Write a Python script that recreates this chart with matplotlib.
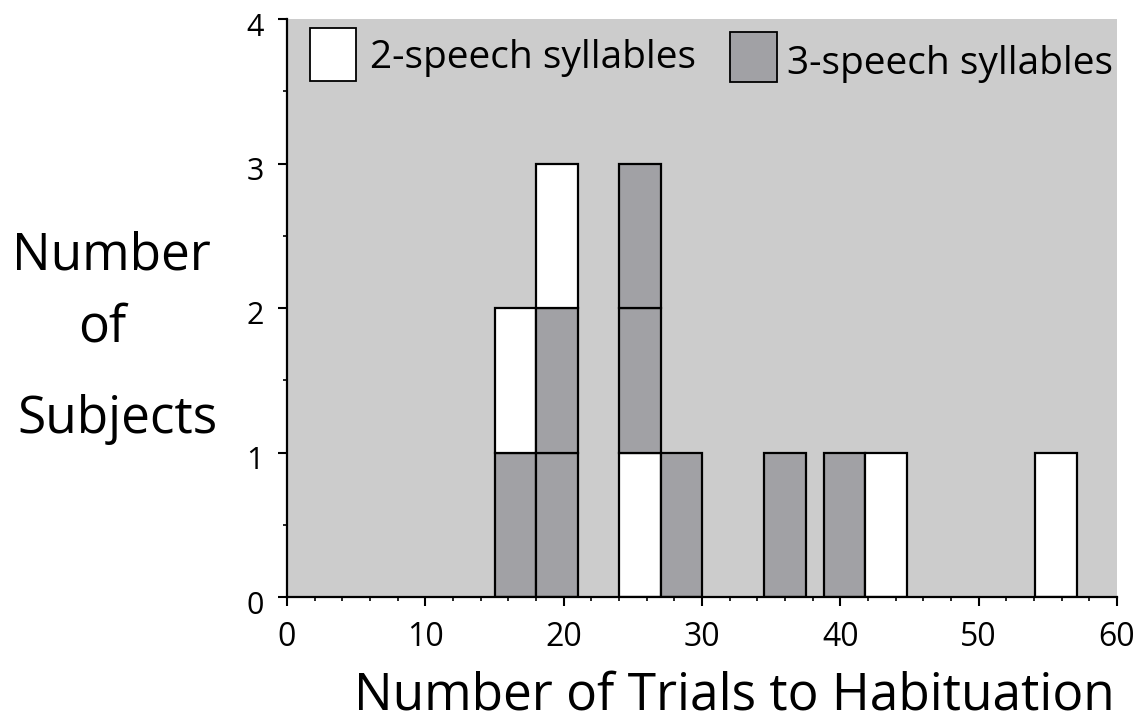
import matplotlib
matplotlib.use('Agg')
import matplotlib.pyplot as plt
from matplotlib.patches import Rectangle
from matplotlib.ticker import MultipleLocator
from matplotlib.transforms import ScaledTranslation

plt.rcParams['font.family'] = ['Open Sans', 'DejaVu Sans']

# one column per bin: left edge of bin and the subjects stacked from bottom up
bin_lefts = [15, 18, 24, 27, 34.5, 38.8, 41.8, 54.1]
bin_width = 3.0
stacks = [
    ['3', '2'],
    ['3', '3', '2'],
    ['2', '3', '3'],
    ['3'],
    ['3'],
    ['3'],
    ['2'],
    ['2'],
]
group_labels = {'2': '2-speech syllables', '3': '3-speech syllables'}
group_colors = {'2': 'white', '3': '#a1a1a5'}

x_ticks = [0, 10, 20, 30, 40, 50, 60]
y_ticks = [0, 1, 2, 3, 4]

W, H = 1135, 722


def fx(px):
    return px / W


def fy(py):
    return 1 - py / H


fig = plt.figure(figsize=(W / 100, H / 100), dpi=100)
ax = fig.add_axes([fx(287), fy(597), 830 / W, 578 / H])
ax.set_facecolor('#cccccc')

for left, stack in zip(bin_lefts, stacks):
    for level, grp in enumerate(stack):
        ax.bar(left, 1, width=bin_width, bottom=level, align='edge',
               color=group_colors[grp], edgecolor='black', linewidth=1.6, zorder=3)

ax.set_xlim(0, 60)
ax.set_ylim(0, 4)
ax.set_xticks(x_ticks)
ax.set_yticks(y_ticks)
ax.xaxis.set_minor_locator(MultipleLocator(2))
ax.yaxis.set_minor_locator(MultipleLocator(0.5))
ax.tick_params(which='major', direction='out', length=6.5, width=1.5, colors='black')
ax.tick_params(which='minor', direction='out', length=3, width=1.2, colors='black')
ax.tick_params(axis='x', labelsize=23, pad=11)
ax.tick_params(axis='y', labelsize=22, pad=10)
shift = ScaledTranslation(0, -5 / 100, fig.dpi_scale_trans)
for lab in ax.get_yticklabels():
    lab.set_transform(lab.get_transform() + shift)

for side in ['top', 'right']:
    ax.spines[side].set_visible(False)
for side in ['left', 'bottom']:
    ax.spines[side].set_linewidth(1.6)
    ax.spines[side].set_zorder(4)

# legend: boxes with labels along the top of the plot
fig.patches.append(Rectangle((fx(310), fy(81)), 46 / W, 53 / H, transform=fig.transFigure,
                             facecolor=group_colors['2'], edgecolor='black', linewidth=1.3,
                             zorder=5))
fig.text(fx(370), fy(68), group_labels['2'], fontsize=28, va='baseline', ha='left', zorder=5)
fig.patches.append(Rectangle((fx(730), fy(82)), 47 / W, 50 / H, transform=fig.transFigure,
                             facecolor=group_colors['3'], edgecolor='black', linewidth=1.3,
                             zorder=5))
fig.text(fx(787), fy(74), group_labels['3'], fontsize=28, va='baseline', ha='left', zorder=5)

# y label in three lines
fig.text(fx(111), fy(270), 'Number', fontsize=37, ha='center', va='baseline')
fig.text(fx(102), fy(342), 'of', fontsize=37, ha='center', va='baseline')
fig.text(fx(117), fy(433), 'Subjects', fontsize=37, ha='center', va='baseline')

fig.text(fx(734), fy(709), 'Number of Trials to Habituation', fontsize=37,
         ha='center', va='baseline')

fig.savefig('out.png', dpi=100)
